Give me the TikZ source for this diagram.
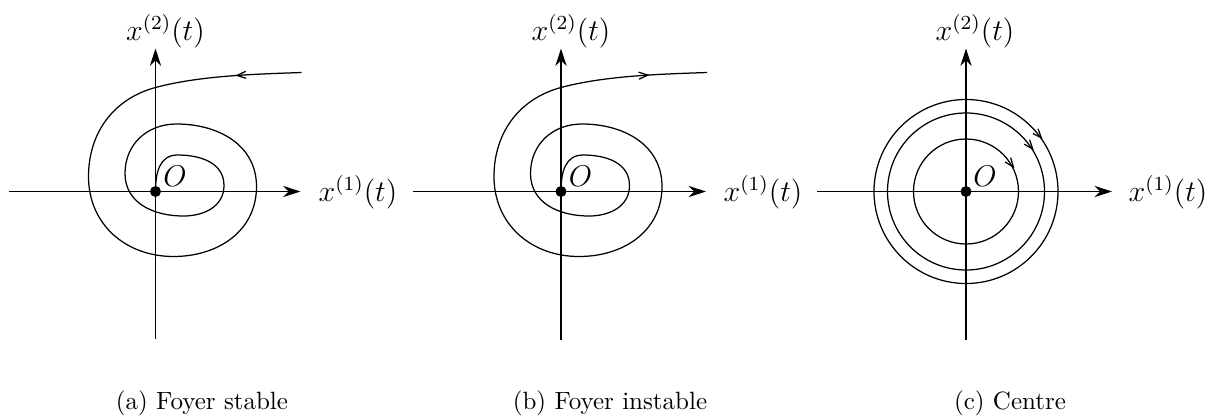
\documentclass[tikz,border=0pt]{standalone}
\usepackage{amsmath}
\usetikzlibrary{arrows.meta,decorations.markings}

% spiral trajectory of a focus, drawn from O outwards
\newcommand{\foyer}[1]{%
  \draw[traj, #1] (0,0)
    to[out=90, in=180, looseness=1.1] (22,36.5)
    to[out=0, in=90, looseness=1.05] (68.5,6)
    to[out=-90, in=0, looseness=1.05] (28,-24.5)
    to[out=180, in=-90, looseness=1.05] (-30.5,18)
    to[out=90, in=180, looseness=1.05] (21,67.5)
    to[out=0, in=90, looseness=1.05] (101,5)
    to[out=-90, in=0, looseness=1.05] (18,-65)
    to[out=180, in=-90, looseness=1.05] (-67,15)
    to[out=90, in=195, looseness=1] (0,104)
    to[out=15, in=182, looseness=0.8] (146,119);}

\begin{document}
\begin{tikzpicture}[x=0.4pt, y=0.4pt,
    >={Straight Barb[length=3.6pt, width=2.8pt]},
    axis/.style={line width=0.5pt, -{Stealth[length=7pt, width=4.5pt]}},
    traj/.style={line width=0.5pt},
    flowfwd/.style={postaction={decorate, decoration={markings,
        mark=at position #1 with {\arrow{>}}}}},
    flowback/.style={postaction={decorate, decoration={markings,
        mark=at position #1 with {\arrow{<}}}}},
    dot/.style={circle, fill, inner sep=0pt, minimum size=4.4pt},
    lbl/.style={font=\large, inner sep=0pt},
    caption/.style={font=\normalsize, inner sep=0pt},
]
    \useasboundingbox (0,0) rectangle (1213,415);

    % (a) stable focus
    \begin{scope}[shift={(155.5,223.5)}]
        \draw[axis] (-147,0) -- (145,0);
        \draw[axis] (0,-147) -- (0,143);
        \foyer{flowback=-22pt}
        \node[dot] (oa) at (0,0) {};
        \node[lbl] (Oa) at (19.5,15.5) {$O$};
        \node[lbl] (x1a) at (202.5,-1) {$x^{(1)}(t)$};
        \node[lbl] (x2a) at (10,160.5) {$x^{(2)}(t)$};
        \node[caption] (capa) at (46.5,-212) {(a) Foyer stable};
    \end{scope}

    % (b) unstable focus
    \begin{scope}[shift={(561,223.5)}]
        \draw[axis] (-148,0) -- (145,0);
        \draw[axis] (0,-148) -- (0,143);
        \foyer{flowfwd=-23pt}
        \node[dot] (ob) at (0,0) {};
        \node[lbl] (Ob) at (19.5,15.5) {$O$};
        \node[lbl] (x1b) at (202,-1) {$x^{(1)}(t)$};
        \node[lbl] (x2b) at (10,160.5) {$x^{(2)}(t)$};
        \node[caption] (capb) at (49,-212) {(b) Foyer instable};
    \end{scope}

    % (c) centre
    \begin{scope}[shift={(966,223.5)}]
        \draw[axis] (-149,0) -- (146,0);
        \draw[axis] (0,-148) -- (0,143);
        \draw[traj, flowback=0.105] (0,0) circle[radius=52.5];
        \draw[traj, flowback=0.11] (0,0) circle[radius=78.5];
        \draw[traj, flowback=0.115] (0,0) circle[radius=92];
        \node[dot] (oc) at (0,0) {};
        \node[lbl] (Oc) at (19,15.5) {$O$};
        \node[lbl] (x1c) at (202,-1) {$x^{(1)}(t)$};
        \node[lbl] (x2c) at (9,160.5) {$x^{(2)}(t)$};
        \node[caption] (capc) at (44,-212) {(c) Centre};
    \end{scope}
\end{tikzpicture}
\end{document}
